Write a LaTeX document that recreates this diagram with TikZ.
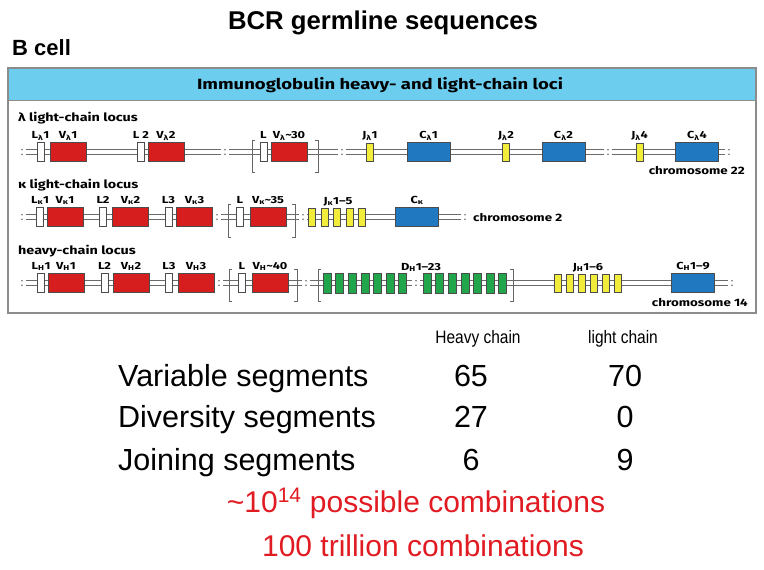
\documentclass[tikz,border=0pt]{standalone}
\usepackage{fontspec}
\setmainfont{Liberation Sans}
\newfontfamily\locusfont{Fira Sans}[FakeStretch=1.25]
\newfontfamily\narrowfont{Liberation Sans}[FakeStretch=0.86]
\usetikzlibrary{positioning}

\definecolor{vred}{HTML}{D71E1F}
\definecolor{cblue}{HTML}{1F78C0}
\definecolor{jyellow}{HTML}{F2EC3A}
\definecolor{dgreen}{HTML}{22A64B}
\definecolor{headblue}{HTML}{6CCDEF}
\definecolor{combred}{HTML}{E01B22}
\definecolor{strand}{HTML}{6A6A6A}

\begin{document}
\begin{tikzpicture}[x=1pt,y=-1pt,label distance=4pt,
        seg/.style={draw=black!70,line width=0.6pt,inner sep=0pt,minimum height=19pt},
        lseg/.style={seg,fill=white,minimum width=7pt},
        vseg/.style={seg,fill=vred,minimum width=36pt},
        jseg/.style={seg,fill=jyellow,minimum width=7pt,minimum height=18pt},
        cseg/.style={seg,fill=cblue,minimum width=43pt},
        dseg/.style={seg,fill=dgreen,minimum width=8pt,minimum height=20pt},
        strandline/.style={draw=strand,line width=0.8pt},
        bracket/.style={draw=black!60,line width=0.8pt},
        seglabel/.style={font=\locusfont\bfseries\fontsize{10.2}{10}\selectfont,inner sep=0pt,anchor=base},
        locuslabel/.style={font=\locusfont\bfseries\fontsize{11.5}{12}\selectfont,inner sep=0pt,anchor=base west},
        chromlabel/.style={font=\locusfont\bfseries\fontsize{10.7}{12}\selectfont,inner sep=0pt},
        rowtext/.style={font=\fontsize{30.5}{31}\selectfont,inner sep=0pt,anchor=base west},
        count/.style={font=\fontsize{30.5}{31}\selectfont,inner sep=0pt,anchor=base},
        colhead/.style={font=\narrowfont\fontsize{18}{19}\selectfont,inner sep=0pt,anchor=base},
        combtext/.style={font=\fontsize{30}{31}\selectfont,text=combred,inner sep=0pt,anchor=base}
    ]
    \useasboundingbox (0,0) rectangle (764,570);

    % titles
    \node[font=\bfseries\fontsize{25.7}{26}\selectfont,inner sep=0pt,anchor=base] (title) at (383,30) {BCR germline sequences};
    \node[font=\bfseries\fontsize{22}{24}\selectfont,inner sep=0pt,anchor=base west] (bcell) at (12,56) {B cell};

    % frame with header band
    \fill[headblue] (8,68) rectangle (756,100);
    \draw[black!45,line width=1pt] (8,100) -- (756,100);
    \draw[black!45,line width=1.6pt] (8,68) rectangle (756,313);
    \node[font=\locusfont\bfseries\fontsize{14.8}{15}\selectfont,inner sep=0pt,anchor=base] (header) at (380,89)
        {Immunoglobulin heavy- and light-chain loci};

    % lambda locus
    \node[locuslabel] (lamname) at (18,121) {λ light-chain locus};
    \foreach \a/\b in {26/221,229/338,346/604,612/725}
        \draw[strandline] (\a,149.8) -- (\b,149.8) (\a,154.2) -- (\b,154.2);
    \foreach \x in {22,225,342,608,729}
        \fill[strand] (\x,149.8) circle (0.9pt) (\x,154.2) circle (0.9pt);
    \draw[bracket] (255,140) -- (252,140) -- (252,172) -- (255,172);
    \draw[bracket] (315,140) -- (318,140) -- (318,172) -- (315,172);
    \node[lseg,label={[seglabel]above:L\textsubscript{λ}1}] (lamL1) at (40.5,152) {};
    \node[vseg,label={[seglabel]above:V\textsubscript{λ}1}] (lamV1) at (68,152) {};
    \node[lseg,label={[seglabel]above:L 2}] (lamL2) at (141,152) {};
    \node[vseg,label={[seglabel]above:V\textsubscript{λ}2}] (lamV2) at (166,152) {};
    \node[lseg,label={[seglabel]above:L}] (lamL) at (263.5,152) {};
    \node[vseg,label={[seglabel]above:V\textsubscript{λ}\textasciitilde30}] (lamV) at (289,152) {};
    \node[jseg,label={[seglabel]above:J\textsubscript{λ}1}] (lamJ1) at (370,152) {};
    \node[cseg,label={[seglabel]above:C\textsubscript{λ}1}] (lamC1) at (428.5,152) {};
    \node[jseg,label={[seglabel]above:J\textsubscript{λ}2}] (lamJ2) at (506,152) {};
    \node[cseg,label={[seglabel]above:C\textsubscript{λ}2}] (lamC2) at (563.5,152) {};
    \node[jseg,label={[seglabel]above:J\textsubscript{λ}4}] (lamJ4) at (639.5,152) {};
    \node[cseg,label={[seglabel]above:C\textsubscript{λ}4}] (lamC4) at (697,152) {};
    \node[chromlabel,anchor=base east] (chr22) at (745,174) {chromosome 22};

    % kappa locus
    \node[locuslabel] (kapname) at (18,188) {κ light-chain locus};
    \foreach \a/\b in {26/213,221/299,307/461}
        \draw[strandline] (\a,214.8) -- (\b,214.8) (\a,219.2) -- (\b,219.2);
    \foreach \x in {22,217,303,465}
        \fill[strand] (\x,214.8) circle (0.9pt) (\x,219.2) circle (0.9pt);
    \draw[bracket] (231,204) -- (228,204) -- (228,237) -- (231,237);
    \draw[bracket] (292,204) -- (295,204) -- (295,237) -- (292,237);
    \node[lseg,label={[seglabel]above:L\textsubscript{κ}1}] (kapL1) at (40,217) {};
    \node[vseg,label={[seglabel]above:V\textsubscript{κ}1}] (kapV1) at (65,217) {};
    \node[lseg,label={[seglabel]above:L2}] (kapL2) at (103,217) {};
    \node[vseg,label={[seglabel]above:V\textsubscript{κ}2}] (kapV2) at (130.5,217) {};
    \node[lseg,label={[seglabel]above:L3}] (kapL3) at (168.5,217) {};
    \node[vseg,label={[seglabel]above:V\textsubscript{κ}3}] (kapV3) at (194.5,217) {};
    \node[lseg,label={[seglabel]above:L}] (kapL) at (240,217) {};
    \node[vseg,label={[seglabel]above:V\textsubscript{κ}\textasciitilde35}] (kapV) at (268,217) {};
    \foreach \i in {1,...,5}
        \node[jseg] (kapJ\i) at (299.5+12.5*\i,217) {};
    \node[seglabel] (kapJlab) at (338,204) {J\textsubscript{κ}1–5};
    \node[cseg,label={[seglabel]above:C\textsubscript{κ}}] (kapC) at (417,217) {};
    \node[chromlabel,anchor=base west] (chr2) at (473,221) {chromosome 2};

    % heavy-chain locus
    \node[locuslabel] (hvyname) at (18,254) {heavy-chain locus};
    \foreach \a/\b in {26/215,223/302,310/412,420/728}
        \draw[strandline] (\a,280.8) -- (\b,280.8) (\a,285.2) -- (\b,285.2);
    \foreach \x in {22,219,306,416,732}
        \fill[strand] (\x,280.8) circle (0.9pt) (\x,285.2) circle (0.9pt);
    \draw[bracket] (232,269) -- (229,269) -- (229,301) -- (232,301);
    \draw[bracket] (294,269) -- (297,269) -- (297,301) -- (294,301);
    \draw[bracket] (321,269) -- (318,269) -- (318,301) -- (321,301);
    \draw[bracket] (510,269) -- (513,269) -- (513,301) -- (510,301);
    \node[lseg,label={[seglabel]above:L\textsubscript{H}1}] (hvyL1) at (41,283) {};
    \node[vseg,label={[seglabel]above:V\textsubscript{H}1}] (hvyV1) at (66,283) {};
    \node[lseg,label={[seglabel]above:L2}] (hvyL2) at (104.5,283) {};
    \node[vseg,label={[seglabel]above:V\textsubscript{H}2}] (hvyV2) at (131,283) {};
    \node[lseg,label={[seglabel]above:L3}] (hvyL3) at (169,283) {};
    \node[vseg,label={[seglabel]above:V\textsubscript{H}3}] (hvyV3) at (196,283) {};
    \node[lseg,label={[seglabel]above:L}] (hvyL) at (242,283) {};
    \node[vseg,label={[seglabel]above:V\textsubscript{H}\textasciitilde40}] (hvyV) at (270,283) {};
    \foreach \i in {1,...,7} {
        \node[dseg] (hvyDa\i) at (314.4+12.6*\i,283) {};
        \node[dseg] (hvyDb\i) at (414.4+12.6*\i,283) {};
    }
    \node[seglabel] (hvyDlab) at (421,270) {D\textsubscript{H}1–23};
    \foreach \i in {1,...,6}
        \node[jseg] (hvyJ\i) at (546+12*\i,283) {};
    \node[seglabel] (hvyJlab) at (588,270) {J\textsubscript{H}1–6};
    \node[cseg,label={[seglabel]above:C\textsubscript{H}1–9}] (hvyC) at (693,283) {};
    \node[chromlabel,anchor=base east] (chr14) at (748,306) {chromosome 14};

    % segment counts
    \node[colhead] (heavyhead) at (478,343) {Heavy chain};
    \node[colhead] (lighthead) at (623,343) {light chain};
    \node[rowtext] (varrow) at (118,386) {Variable segments};
    \node[count] (varH) at (471,386) {65};
    \node[count] (varL) at (625,386) {70};
    \node[rowtext] (divrow) at (118,427) {Diversity segments};
    \node[count] (divH) at (471,427) {27};
    \node[count] (divL) at (625,427) {0};
    \node[rowtext] (joinrow) at (118,470) {Joining segments};
    \node[count] (joinH) at (471,470) {6};
    \node[count] (joinL) at (625,470) {9};
    \node[combtext] (combs) at (416,512) {\textasciitilde10\textsuperscript{14} possible combinations};
    \node[combtext] (trillion) at (423,556) {100 trillion combinations};
\end{tikzpicture}
\end{document}
